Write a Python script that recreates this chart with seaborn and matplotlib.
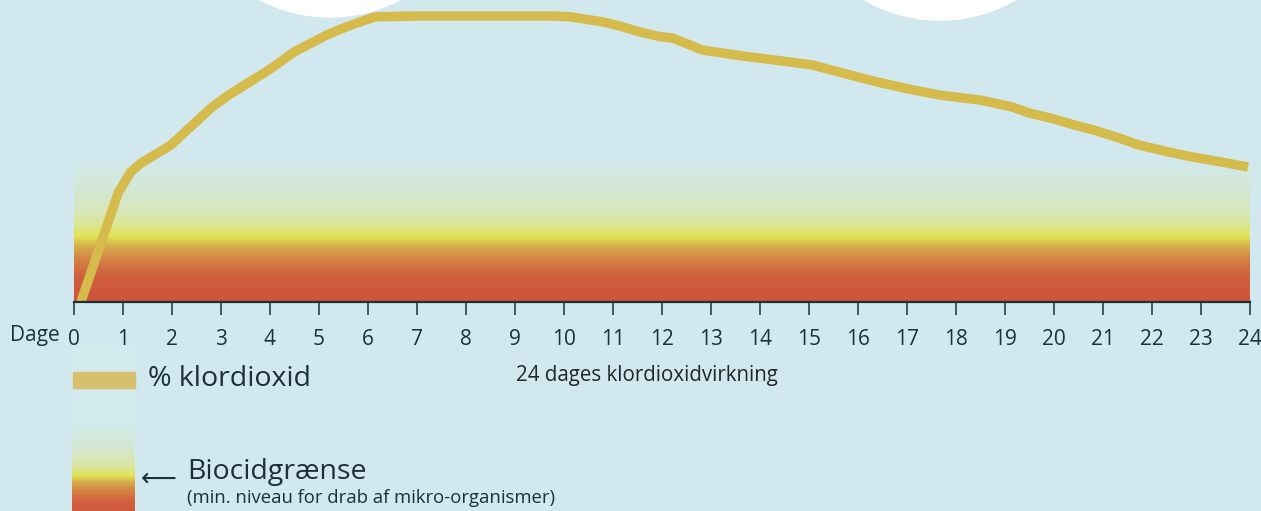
import numpy as np
import pandas as pd
import matplotlib
matplotlib.use("Agg")
import matplotlib.pyplot as plt
import seaborn as sns
from matplotlib.colors import LinearSegmentedColormap
from matplotlib.patches import Ellipse, Rectangle

# ---------------- data ----------------
days = [0.14, 0.90, 1.16, 1.37, 1.98, 2.82, 3.16, 4.0, 4.49, 5.16, 5.6, 6.14,
        7.0, 8.0, 9.0, 9.8, 10.14, 10.8, 11.14, 11.55, 11.98, 12.22, 12.82,
        13.65, 14.3, 15.06, 15.7, 16.4, 17.0, 17.65, 18.5, 19.14, 19.49,
        20.0, 20.41, 20.82, 21.3, 21.73, 22.3, 22.82, 23.4, 23.96]
chlorine_pct = [0.0, 38.1, 45.5, 48.6, 54.9, 68.2, 72.4, 81.4, 87.4, 93.4, 96.5, 99.7,
                100.0, 100.0, 100.0, 100.0, 99.7, 97.9, 96.5, 94.4, 92.7, 92.3, 88.1,
                86.0, 84.6, 82.9, 80.0, 76.9, 74.6, 72.4, 70.6, 68.2, 66.1,
                64.0, 61.9, 60.1, 57.5, 54.9, 52.6, 50.7, 49.0, 47.2]
tick_days = list(range(0, 25))
tick_labels = [str(d) for d in tick_days]
xlabel_text = "24 dages klordioxidvirkning"
legend_line = "% klordioxid"
legend_grad = "Biocidgrænse"
legend_note = "(min. niveau for drab af mikro-organismer)"

# ---------------- style ----------------
BG = "#d1e9ee"
GOLD = "#d5ba4c"
SWATCH = "#d6c06e"
DARK = "#1c3036"

sns.set_theme(style="white")
plt.rcParams["font.family"] = ["Open Sans", "DejaVu Sans"]

W, H = 1261, 511
fig = plt.figure(figsize=(W / 100, H / 100), dpi=100, facecolor=BG)

# decorative white circles at top (behind everything)
for cx, cy in [(330, -134), (940, -131)]:
    fig.patches.append(Ellipse((cx / W, 1 - cy / H), 302 / W, 302 / H,
                               transform=fig.transFigure, color="white", zorder=-2))
# legend column (very faint)
fig.patches.append(Rectangle((72 / W, 0), 63 / W, (H - 345) / H,
                             transform=fig.transFigure, color="#d3eaef", zorder=-2))

# axes: x pixel 74..1250 for day 0..24, baseline at y=302
x0, x1 = 74, 1250
base = 302
ax = fig.add_axes([x0 / W, (H - base) / H, (x1 - x0) / W, base / H])
ax.patch.set_alpha(0)
ymax = base / 2.86  # value 100 at pixel y=16

# gradient (fraction of 0..145 px above baseline)
stops = [(0.00, (206, 82, 58)), (0.17, (209, 95, 62)), (0.29, (212, 128, 68)),
         (0.38, (215, 170, 75)), (0.45, (223, 227, 82)), (0.53, (220, 230, 145)),
         (0.62, (216, 231, 185)), (0.76, (212, 232, 210)), (1.00, (209, 233, 238))]
cmap = LinearSegmentedColormap.from_list(
    "bio", [(p, tuple(c / 255 for c in col)) for p, col in stops])
grad = np.linspace(0, 1, 256).reshape(-1, 1)
gtop = 145 / 2.86
ax.imshow(grad, cmap=cmap, origin="lower", extent=[0, 24, 0, gtop],
          aspect="auto", zorder=1, interpolation="bilinear")

df = pd.DataFrame({"dag": days, "pct": chlorine_pct})
sns.lineplot(data=df, x="dag", y="pct", ax=ax, color=GOLD, linewidth=6.8,
             sort=False, zorder=3, solid_joinstyle="round", solid_capstyle="butt")
ax.set_xlim(0, 24)
ax.set_ylim(0, ymax)

for s in ["top", "right", "left"]:
    ax.spines[s].set_visible(False)
ax.spines["bottom"].set_color(DARK)
ax.spines["bottom"].set_linewidth(1.6)
ax.spines["bottom"].set_zorder(4)
ax.set_yticks([])
ax.set_xticks(tick_days)
ax.set_xticklabels(tick_labels)
ax.tick_params(axis="x", direction="out", length=9, width=1.1, color=DARK,
               pad=10.4, labelsize=15, labelcolor=DARK, bottom=True)
ax.set_xlabel("")
ax.set_ylabel("")

# "Dage" label
fig.text(60 / W, 1 - 336 / H, "Dage", ha="right", va="center",
         fontsize=15, color=DARK)

# x label
fig.text(647 / W, 1 - 376 / H, xlabel_text, ha="center", va="center",
         fontsize=14.8, color="#222629")

# legend swatch + gradient strip
fig.patches.append(Rectangle((73 / W, 1 - 388 / H), 62 / W, 16 / H,
                             transform=fig.transFigure, color=SWATCH, zorder=1))
lax = fig.add_axes([72 / W, -8 / H, 63 / W, (519 - 423) / H], zorder=2)
lax.imshow(grad, cmap=cmap, origin="lower", extent=[0, 1, 0, 1],
           aspect="auto", interpolation="bilinear")
lax.set_xlim(0, 1)
lax.set_ylim(0, 1)
lax.axis("off")

fig.text(148 / W, 1 - 379 / H, legend_line, ha="left", va="center",
         fontsize=20.5, color=DARK)
fig.text(187 / W, 1 - 472 / H, legend_grad, ha="left", va="center",
         fontsize=20.5, color=DARK)
fig.text(187 / W, 1 - 498 / H, legend_note, ha="left", va="center",
         fontsize=13.3, color=DARK)
fig.text(159 / W, 1 - 479 / H, "\u27f5", ha="center", va="center",
         fontsize=18, color=DARK, family=["DejaVu Sans"])

fig.savefig("out.png", dpi=100, facecolor=BG)
